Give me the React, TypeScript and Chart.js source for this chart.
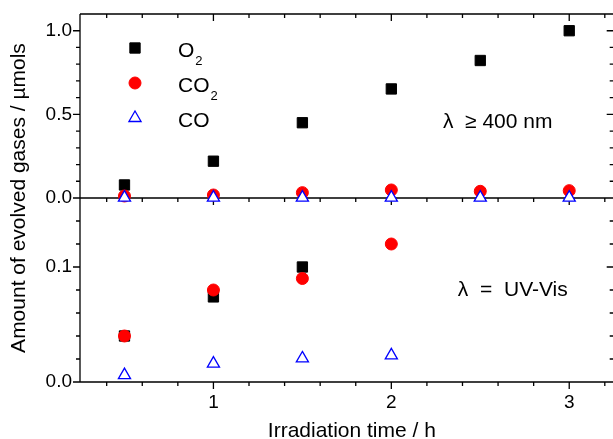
import React, { useEffect, useRef } from 'react';
import { Chart, registerables } from 'chart.js';

Chart.register(...registerables);

// ---- data ----
const VIS_TIMES = [0.5, 1, 1.5, 2, 2.5, 3];
const VIS_O2 = [0.078, 0.22, 0.45, 0.652, 0.822, 1.0];
const VIS_CO2 = [0.012, 0.018, 0.032, 0.048, 0.04, 0.044];
const VIS_CO = [0.002, 0.002, 0.002, 0.002, 0.002, 0.002];

const UV_TIMES = [0.5, 1, 1.5, 2];
const UV_O2: (number | null)[] = [0.04, 0.074, 0.1, null];
const UV_CO2 = [0.04, 0.08, 0.09, 0.12];
const UV_CO = [0.006, 0.016, 0.0205, 0.0232];

const SERIES_NAMES = ['O₂', 'CO₂', 'CO'];

// ---- axis ticks ----
const X_MAJOR = [1, 2, 3];
const X_MINOR = [0.4, 0.6, 0.8, 1.2, 1.4, 1.6, 1.8, 2.2, 2.4, 2.6, 2.8, 3.2];
const TOP_MAJOR = [0, 0.5, 1.0];
const TOP_MINOR = [0.1, 0.2, 0.3, 0.4, 0.6, 0.7, 0.8, 0.9];
const BOT_MAJOR = [0, 0.1];
const BOT_MINOR = [0.02, 0.04, 0.06, 0.08, 0.12, 0.14];

const X_TITLE = 'Irradiation time / h';
const Y_TITLE = 'Amount of evolved gases / µmols';
const NOTE_TOP = 'λ  ≥ 400 nm';
const NOTE_BOT = 'λ  =  UV-Vis';

const FONT = '"Liberation Sans", Arial, sans-serif';

const STYLES = [
  { pointStyle: 'rect', radius: 7.3, bg: '#000000', border: '#000000', bw: 1, order: 3 },
  { pointStyle: 'circle', radius: 6, bg: '#ff0000', border: '#ff0000', bw: 1, order: 2 },
  { pointStyle: 'triangle', radius: 7, bg: '#ffffff', border: '#0000ff', bw: 1.3, order: 1 },
];

function pts(xs: number[], ys: (number | null)[]) {
  return xs.map((x, i) => ({ x, y: ys[i] }));
}

function makeDs(label: string, data: any[], s: any, axis: string) {
  return {
    label,
    data,
    yAxisID: axis,
    pointStyle: s.pointStyle,
    pointRadius: s.radius,
    pointBackgroundColor: s.bg,
    pointBorderColor: s.border,
    pointBorderWidth: s.bw,
    backgroundColor: s.bg,
    borderColor: s.border,
    showLine: false,
    order: s.order,
    clip: false as any,
  };
}

function drawMarker(ctx: CanvasRenderingContext2D, s: any, x: number, y: number) {
  ctx.save();
  ctx.fillStyle = s.bg;
  ctx.strokeStyle = s.border;
  ctx.lineWidth = s.bw;
  ctx.beginPath();
  const r = s.radius;
  if (s.pointStyle === 'rect') {
    const h = Math.SQRT1_2 * r;
    ctx.rect(x - h, y - h, 2 * h, 2 * h);
  } else if (s.pointStyle === 'circle') {
    ctx.arc(x, y, r, 0, Math.PI * 2);
  } else {
    ctx.moveTo(x, y - r);
    ctx.lineTo(x + 0.866 * r, y + 0.5 * r);
    ctx.lineTo(x - 0.866 * r, y + 0.5 * r);
    ctx.closePath();
  }
  ctx.fill();
  ctx.stroke();
  ctx.restore();
}

const framePlugin = {
  id: 'frame',
  beforeDatasetsDraw(chart: any) {
    const ctx: CanvasRenderingContext2D = chart.ctx;
    const { left, right, top, bottom } = chart.chartArea;
    const xs = chart.scales.x;
    const yT = chart.scales.yTop;
    const yB = chart.scales.yBot;
    const sep = yT.getPixelForValue(0);
    ctx.save();
    ctx.strokeStyle = '#000';
    ctx.lineWidth = 1.3;
    ctx.lineCap = 'butt';
    ctx.beginPath();
    ctx.moveTo(left, top); ctx.lineTo(right, top);
    ctx.moveTo(left, sep); ctx.lineTo(right, sep);
    ctx.moveTo(left, bottom); ctx.lineTo(right, bottom);
    ctx.moveTo(left, top); ctx.lineTo(left, bottom);
    ctx.moveTo(right, top); ctx.lineTo(right, bottom);
    const xt = (v: number, len: number) => {
      const p = xs.getPixelForValue(v);
      ctx.moveTo(p, bottom); ctx.lineTo(p, bottom + len);
      ctx.moveTo(p, top); ctx.lineTo(p, top + len);
      ctx.moveTo(p, sep); ctx.lineTo(p, sep + len);
    };
    X_MAJOR.forEach(v => xt(v, 7));
    X_MINOR.forEach(v => xt(v, 4));
    const yt = (sc: any, v: number, len: number) => {
      const p = sc.getPixelForValue(v);
      ctx.moveTo(left - len, p); ctx.lineTo(left, p);
      ctx.moveTo(right - len, p); ctx.lineTo(right, p);
    };
    TOP_MAJOR.forEach(v => yt(yT, v, 7));
    TOP_MINOR.forEach(v => yt(yT, v, 4));
    BOT_MAJOR.forEach(v => yt(yB, v, 7));
    BOT_MINOR.forEach(v => yt(yB, v, 4));
    ctx.stroke();
    ctx.restore();
  },
  afterDraw(chart: any) {
    const ctx: CanvasRenderingContext2D = chart.ctx;
    const { left, right, top, bottom } = chart.chartArea;
    const xs = chart.scales.x;
    const yT = chart.scales.yTop;
    const yB = chart.scales.yBot;
    ctx.save();
    ctx.fillStyle = '#000';
    ctx.save();
    ctx.translate(25, (top + bottom) / 2);
    ctx.rotate(-Math.PI / 2);
    ctx.font = `21px ${FONT}`;
    ctx.textAlign = 'center';
    ctx.textBaseline = 'alphabetic';
    ctx.fillText(Y_TITLE, 0, 0);
    ctx.restore();
    ctx.font = `21px ${FONT}`;
    ctx.textAlign = 'center';
    ctx.textBaseline = 'alphabetic';
    ctx.fillText(X_TITLE, (left + right) / 2 + 5, 437);
    ctx.textAlign = 'left';
    ctx.fillText(NOTE_TOP, xs.getPixelForValue(2.29), yT.getPixelForValue(0.42));
    ctx.fillText(NOTE_BOT, xs.getPixelForValue(2.374), yB.getPixelForValue(0.0748));
    SERIES_NAMES.forEach((name, i) => {
      const my = top + 34 + i * 35;
      drawMarker(ctx, STYLES[i], left + 55, my);
      const base = name.replace('₂', '');
      const sub = name.includes('₂') ? '2' : '';
      const tx = left + 98;
      const by = my + 8.5;
      ctx.fillStyle = '#000';
      ctx.font = `21px ${FONT}`;
      ctx.textAlign = 'left';
      ctx.fillText(base, tx, by);
      if (sub) {
        const w = ctx.measureText(base).width;
        ctx.font = `13px ${FONT}`;
        ctx.fillText(sub, tx + w + 1, by + 8);
      }
    });
    ctx.restore();
  },
};

export default function App() {
  const ref = useRef<HTMLCanvasElement>(null);
  useEffect(() => {
    const datasets = [
      makeDs('O₂ (λ ≥ 400 nm)', pts(VIS_TIMES, VIS_O2), STYLES[0], 'yTop'),
      makeDs('CO₂ (λ ≥ 400 nm)', pts(VIS_TIMES, VIS_CO2), STYLES[1], 'yTop'),
      makeDs('CO (λ ≥ 400 nm)', pts(VIS_TIMES, VIS_CO), STYLES[2], 'yTop'),
      makeDs('O₂ (UV-Vis)', pts(UV_TIMES, UV_O2), STYLES[0], 'yBot'),
      makeDs('CO₂ (UV-Vis)', pts(UV_TIMES, UV_CO2), STYLES[1], 'yBot'),
      makeDs('CO (UV-Vis)', pts(UV_TIMES, UV_CO), STYLES[2], 'yBot'),
    ];
    const tickFont = { family: FONT, size: 19 };
    const chart = new Chart(ref.current as HTMLCanvasElement, {
      type: 'scatter',
      data: { datasets: datasets as any },
      options: {
        responsive: false,
        animation: false,
        devicePixelRatio: 1,
        layout: { padding: { top: 14, right: 2, bottom: 0, left: 0 } },
        plugins: { legend: { display: false }, tooltip: { enabled: false } },
        scales: {
          x: {
            type: 'linear',
            position: 'bottom',
            min: 0.25,
            max: 3.25,
            grid: { display: false, drawTicks: false },
            border: { display: false },
            ticks: { font: tickFont, color: '#000', padding: 9, callback: (v: any) => String(v) },
            afterBuildTicks: (s: any) => { s.ticks = X_MAJOR.map(v => ({ value: v })); },
            afterFit: (s: any) => { s.height = 57; s.paddingLeft = 0; s.paddingRight = 0; },
          },
          yBot: {
            type: 'linear',
            position: 'left',
            stack: 'panels',
            stackWeight: 1,
            min: 0,
            max: 0.16,
            grid: { display: false, drawTicks: false },
            border: { display: false },
            ticks: { font: tickFont, color: '#000', padding: 8, callback: (v: any) => Number(v).toFixed(1) },
            afterBuildTicks: (s: any) => { s.ticks = BOT_MAJOR.map(v => ({ value: v })); },
            afterFit: (s: any) => { s.width = 80; s.paddingTop = 0; s.paddingBottom = 0; },
          },
          yTop: {
            type: 'linear',
            position: 'left',
            stack: 'panels',
            stackWeight: 1,
            min: 0,
            max: 1.1,
            grid: { display: false, drawTicks: false },
            border: { display: false },
            ticks: { font: tickFont, color: '#000', padding: 8, callback: (v: any) => Number(v).toFixed(1) },
            afterBuildTicks: (s: any) => { s.ticks = TOP_MAJOR.map(v => ({ value: v })); },
            afterFit: (s: any) => { s.width = 80; s.paddingTop = 0; s.paddingBottom = 0; },
          },
        } as any,
      },
      plugins: [framePlugin as any],
    });
    return () => chart.destroy();
  }, []);
  return (
    <div style={{ position: 'fixed', left: 0, top: 0, width: 613, height: 439, overflow: 'hidden', background: '#fff' }}>
      <canvas ref={ref} width={622} height={439} style={{ display: 'block', width: 622, height: 439 }} />
    </div>
  );
}
